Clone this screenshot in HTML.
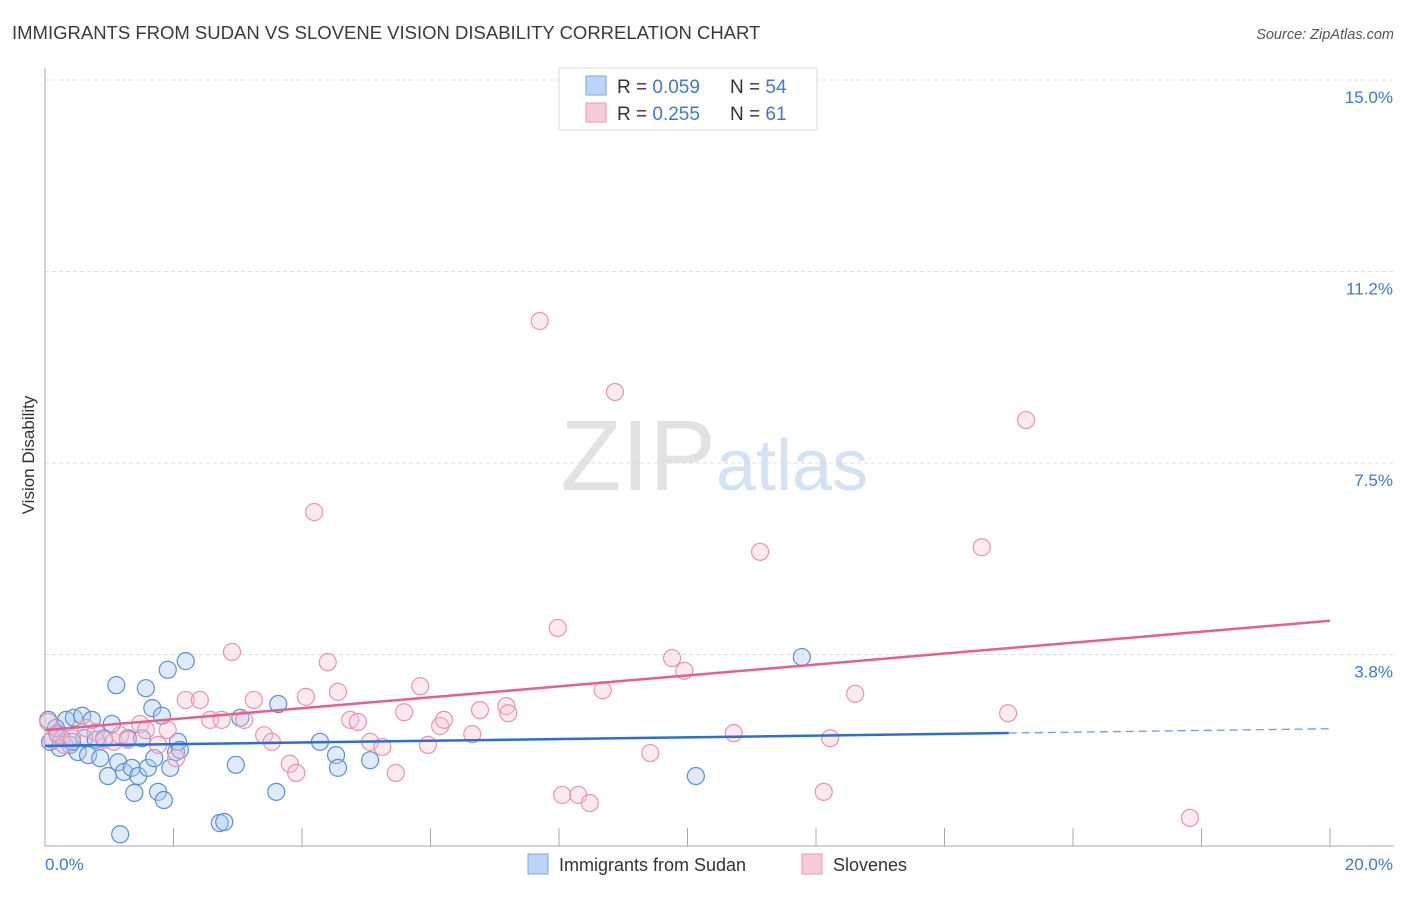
<!DOCTYPE html>
<html><head><meta charset="utf-8"><style>
body{margin:0;background:#fff;font-family:"Liberation Sans",sans-serif;}
svg text{font-family:"Liberation Sans",sans-serif;}
</style></head><body>
<svg id="chart" width="1406" height="892" viewBox="0 0 1406 892" xmlns="http://www.w3.org/2000/svg">
<text x="12" y="39" font-size="18.5" fill="#3a3a3a">IMMIGRANTS FROM SUDAN VS SLOVENE VISION DISABILITY CORRELATION CHART</text>
<text x="1394" y="39" font-size="14.5" fill="#555" text-anchor="end" font-style="italic">Source: ZipAtlas.com</text>
<text x="716" y="490" font-size="100" fill="#e2e2e2" text-anchor="end" font-family="Liberation Serif">ZIP</text>
<text x="716" y="490" font-size="72" fill="#d4e2f5">atlas</text>
<g id="grid"></g>
<g id="axes"></g>
<g id="points"></g>
<g id="trends"></g>
<text transform="translate(34,455) rotate(-90)" font-size="17" fill="#333" text-anchor="middle">Vision Disability</text>
<text x="45" y="870" font-size="17" fill="#3b78d8">0.0%</text>
<text x="1393" y="870" font-size="17" fill="#3b78d8" text-anchor="end">20.0%</text>
<g>
<rect x="559" y="68" width="258" height="62" fill="#fff" stroke="#ddd"/>
<rect x="586" y="76" width="20" height="19" fill="#bcd4f6" stroke="#7aa6e6"/>
<rect x="586" y="103" width="20" height="19" fill="#f9cad8" stroke="#eb9ab2"/>
<text x="617" y="93" font-size="19" fill="#333">R = <tspan fill="#3b78d8">0.059</tspan><tspan x="730">N = </tspan><tspan fill="#3b78d8">54</tspan></text>
<text x="617" y="120" font-size="19" fill="#333">R = <tspan fill="#3b78d8">0.255</tspan><tspan x="730">N = </tspan><tspan fill="#3b78d8"> 61</tspan></text>
</g>
<g>
<rect x="528" y="854" width="20" height="20" fill="#bcd4f6" stroke="#7aa6e6"/>
<text x="559" y="871" font-size="18" fill="#333">Immigrants from Sudan</text>
<rect x="802" y="854" width="20" height="20" fill="#f9cad8" stroke="#eb9ab2"/>
<text x="833" y="871" font-size="18" fill="#333">Slovenes</text>
</g>
</svg>
<script>
const yTicks=[15.0,11.25,7.5,3.75];
const yTickLabels=["15.0%","11.2%","7.5%","3.8%"];
const xTicks=[0,2,4,6,8,10,12,14,16,18,20];
const sudanX=[0.05,0.08,0.19,0.26,0.33,0.39,0.45,0.51,0.58,0.61,0.67,0.73,0.79,0.86,0.92,0.98,1.04,1.11,1.14,1.17,1.23,1.29,1.35,1.39,1.45,1.57,1.60,1.67,1.70,1.76,1.82,1.85,1.91,1.95,2.04,2.07,2.10,2.19,2.97,3.04,3.60,3.63,2.72,2.79,4.28,4.53,4.56,5.06,10.13,11.78,0.23,0.42,1.51,0.17];
const sudanY=[2.47,2.04,2.21,2.11,2.47,1.98,2.51,1.84,2.55,2.11,1.78,2.47,2.08,1.72,2.11,1.37,2.39,3.15,1.64,0.23,1.45,2.11,1.53,1.04,1.37,3.09,1.53,2.70,1.72,1.06,2.55,0.90,3.45,1.53,1.84,2.04,1.88,3.62,1.59,2.51,1.06,2.78,0.45,0.47,2.04,1.78,1.53,1.68,1.37,3.70,1.92,2.04,2.11,2.31];
const sloveneX=[0.05,0.11,0.20,0.30,0.42,0.64,0.79,0.92,1.07,1.17,1.29,1.48,1.57,1.76,1.91,2.04,2.19,2.41,2.57,2.75,2.91,3.10,3.25,3.41,3.53,3.81,3.91,4.06,4.19,4.40,4.56,4.75,4.87,5.06,5.25,5.46,5.59,5.84,5.96,6.15,6.21,6.65,6.77,7.18,7.21,7.70,7.98,8.05,8.30,8.48,8.68,8.87,9.42,9.76,9.95,10.72,11.13,12.12,12.22,12.61,14.58,14.99,15.27,17.82];
const sloveneY=[2.43,2.08,2.17,1.98,2.11,2.31,2.23,2.08,2.04,2.17,2.08,2.39,2.27,1.98,2.27,1.72,2.86,2.86,2.47,2.47,3.80,2.47,2.86,2.17,2.04,1.61,1.43,2.92,6.54,3.60,3.02,2.47,2.43,2.04,1.94,1.43,2.62,3.13,1.98,2.35,2.47,2.19,2.66,2.74,2.60,10.28,4.27,1.00,1.00,0.84,3.05,8.89,1.82,3.68,3.43,2.21,5.76,1.06,2.11,2.98,5.85,2.60,8.34,0.55];
const sudanTrend=[1.96,0.0168];
const sloveneTrend=[2.27,0.107];
const NS="http://www.w3.org/2000/svg";
const X=v=>45+v*64.25, Y=v=>846-v*51.07;
function mk(t,a,p){const e=document.createElementNS(NS,t);for(const k in a)e.setAttribute(k,a[k]);document.getElementById(p).appendChild(e);return e;}
yTicks.forEach((t,i)=>{
 const l=mk('line',{x1:45,x2:1394,y1:Y(t),y2:Y(t),stroke:'#ddd','stroke-dasharray':'4 3'},'grid');
 
 
 const tx=mk('text',{x:1393,y:Y(t)+23,'font-size':17,fill:'#3b78d8','text-anchor':'end'},'grid');
 tx.textContent=yTickLabels[i];
 
 
});
const ax=mk('line',{x1:45,x2:45,y1:68,y2:846,stroke:'#aaa'},'axes');


const bx=mk('line',{x1:45,x2:1394,y1:846,y2:846,stroke:'#aaa'},'axes');


xTicks.forEach(t=>{
 const l=mk('line',{x1:X(t),x2:X(t),y1:828,y2:846,stroke:'#aaa'},'axes');
 
 
});
sudanX.forEach((v,i)=>{
 const c=mk('circle',{cx:X(v),cy:Y(sudanY[i]),r:8.5,fill:'rgba(170,202,242,0.38)',stroke:'#5b8fdc','stroke-width':1.2},'points');
 
 
});
sloveneX.forEach((v,i)=>{
 const c=mk('circle',{cx:X(v),cy:Y(sloveneY[i]),r:8.5,fill:'rgba(248,196,212,0.35)',stroke:'#ec93ae','stroke-width':1.2},'points');
 
 
});
const bt=mk('line',{x1:X(0),y1:Y(sudanTrend[0]),x2:X(15),y2:Y(sudanTrend[0]+sudanTrend[1]*15),stroke:'#2a6fd6','stroke-width':2.5},'trends');


const bd=mk('line',{x1:X(15),y1:Y(sudanTrend[0]+sudanTrend[1]*15),x2:X(20),y2:Y(sudanTrend[0]+sudanTrend[1]*20),stroke:'#6a9ee6','stroke-width':1.3,'stroke-dasharray':'8 5'},'trends');


const pt=mk('line',{x1:X(0),y1:Y(sloveneTrend[0]),x2:X(20),y2:Y(sloveneTrend[0]+sloveneTrend[1]*20),stroke:'#e8608a','stroke-width':2.5},'trends');


</script>
</body></html>
